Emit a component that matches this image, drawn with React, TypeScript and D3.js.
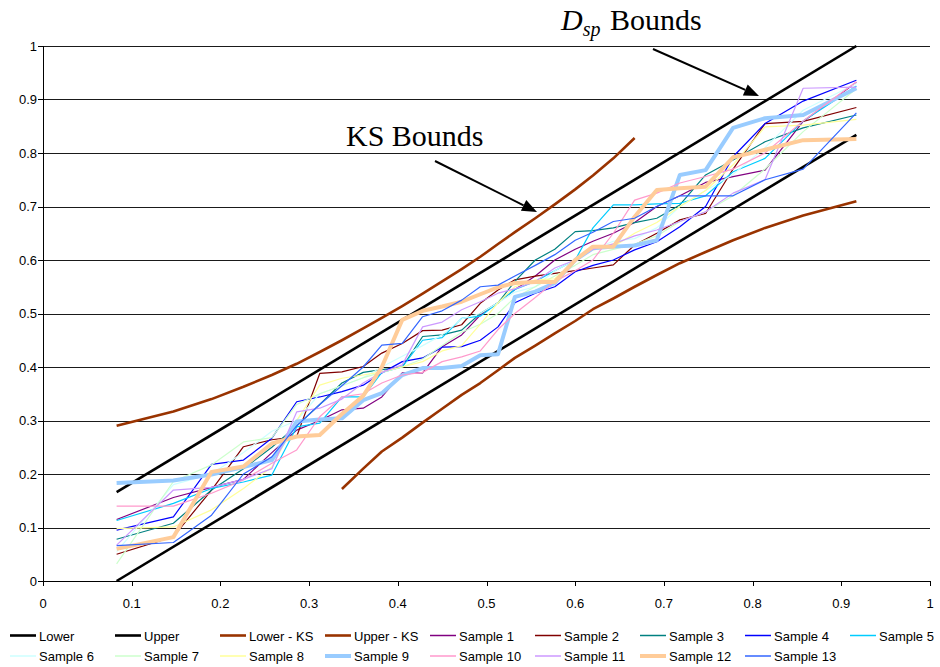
import React from "react";
import * as d3 from "d3";

// Shared x positions (theoretical probabilities) used by every series
const xGrid = [
  0.083, 0.147, 0.19, 0.226, 0.258, 0.286, 0.312, 0.337, 0.361, 0.382,
  0.405, 0.428, 0.45, 0.472, 0.493, 0.513, 0.532, 0.555, 0.577, 0.6,
  0.62, 0.643, 0.667, 0.692, 0.718, 0.747, 0.778, 0.814, 0.857, 0.917,
];

// Straight D_sp bounds (end points)
const boundX = [0.083, 0.917];
const lowerY = [0.0, 0.834];
const upperY = [0.166, 1.0];

// KS bounds: upper curve on the first 23 grid points, lower curve on the last 23
const upperKS = [
  0.29, 0.317, 0.34, 0.363, 0.385, 0.406, 0.428, 0.45, 0.472, 0.492,
  0.514, 0.537, 0.56, 0.583, 0.606, 0.63, 0.652, 0.678, 0.704, 0.732,
  0.758, 0.79, 0.828,
];
const lowerKS = [
  0.172, 0.21, 0.242, 0.268, 0.296, 0.322, 0.348, 0.37, 0.394, 0.417,
  0.44, 0.463, 0.486, 0.508, 0.528, 0.55, 0.572, 0.594, 0.615, 0.637,
  0.66, 0.683, 0.71,
];

const sample1 = [0.115, 0.156, 0.175, 0.19, 0.24, 0.282, 0.3, 0.32, 0.323, 0.344, 0.389, 0.389, 0.438, 0.46, 0.497, 0.52, 0.545, 0.57, 0.6, 0.62, 0.635, 0.65, 0.67, 0.7, 0.72, 0.745, 0.756, 0.768, 0.859, 0.932];
const sample2 = [0.05, 0.083, 0.17, 0.251, 0.264, 0.27, 0.388, 0.391, 0.401, 0.426, 0.444, 0.468, 0.469, 0.479, 0.519, 0.544, 0.563, 0.57, 0.575, 0.58, 0.585, 0.591, 0.628, 0.65, 0.675, 0.687, 0.77, 0.855, 0.859, 0.885];
const sample3 = [0.078, 0.108, 0.17, 0.21, 0.25, 0.29, 0.33, 0.37, 0.39, 0.395, 0.4, 0.457, 0.46, 0.469, 0.5, 0.52, 0.56, 0.6, 0.62, 0.653, 0.655, 0.66, 0.67, 0.678, 0.703, 0.759, 0.787, 0.821, 0.847, 0.871];
const sample4 = [0.095, 0.12, 0.218, 0.226, 0.267, 0.335, 0.344, 0.354, 0.366, 0.389, 0.41, 0.417, 0.437, 0.438, 0.45, 0.475, 0.52, 0.538, 0.55, 0.578, 0.59, 0.6, 0.619, 0.634, 0.662, 0.7, 0.793, 0.855, 0.897, 0.936];
const sample5 = [0.113, 0.145, 0.173, 0.185, 0.198, 0.288, 0.295, 0.344, 0.344, 0.39, 0.4, 0.45, 0.455, 0.491, 0.495, 0.52, 0.545, 0.56, 0.58, 0.6, 0.66, 0.703, 0.703, 0.705, 0.706, 0.72, 0.765, 0.79, 0.86, 0.925];
const sample6 = [0.055, 0.18, 0.2, 0.24, 0.28, 0.3, 0.35, 0.365, 0.38, 0.4, 0.42, 0.44, 0.46, 0.49, 0.5, 0.52, 0.54, 0.55, 0.58, 0.6, 0.62, 0.635, 0.64, 0.66, 0.7, 0.73, 0.76, 0.81, 0.88, 0.93];
const sample7 = [0.032, 0.186, 0.217, 0.26, 0.268, 0.33, 0.35, 0.365, 0.38, 0.39, 0.4, 0.415, 0.44, 0.465, 0.48, 0.5, 0.53, 0.55, 0.57, 0.59, 0.61, 0.62, 0.63, 0.645, 0.672, 0.69, 0.72, 0.77, 0.84, 0.92];
const sample8 = [0.098, 0.101, 0.133, 0.173, 0.213, 0.3, 0.366, 0.379, 0.385, 0.391, 0.4, 0.41, 0.43, 0.44, 0.48, 0.52, 0.55, 0.563, 0.565, 0.6, 0.619, 0.625, 0.65, 0.67, 0.7, 0.73, 0.778, 0.849, 0.852, 0.863];
const sample9 = [0.183, 0.188, 0.199, 0.213, 0.226, 0.298, 0.302, 0.304, 0.338, 0.351, 0.385, 0.398, 0.398, 0.402, 0.422, 0.424, 0.531, 0.541, 0.557, 0.6, 0.622, 0.625, 0.627, 0.637, 0.759, 0.768, 0.847, 0.865, 0.871, 0.921];
const sample10 = [0.14, 0.14, 0.164, 0.189, 0.22, 0.245, 0.307, 0.344, 0.35, 0.37, 0.385, 0.39, 0.41, 0.419, 0.43, 0.47, 0.5, 0.53, 0.56, 0.58, 0.6, 0.65, 0.712, 0.725, 0.744, 0.756, 0.77, 0.8, 0.86, 0.933];
const sample11 = [0.067, 0.17, 0.175, 0.19, 0.21, 0.316, 0.323, 0.34, 0.37, 0.39, 0.404, 0.475, 0.484, 0.507, 0.522, 0.538, 0.546, 0.56, 0.585, 0.6, 0.62, 0.63, 0.645, 0.656, 0.672, 0.69, 0.725, 0.75, 0.921, 0.923];
const sample12 = [0.06, 0.082, 0.204, 0.214, 0.257, 0.27, 0.273, 0.312, 0.346, 0.4, 0.488, 0.505, 0.513, 0.522, 0.536, 0.549, 0.557, 0.559, 0.559, 0.6, 0.625, 0.625, 0.681, 0.731, 0.734, 0.737, 0.792, 0.806, 0.824, 0.826];
const sample13 = [0.066, 0.072, 0.123, 0.2, 0.232, 0.29, 0.33, 0.365, 0.4, 0.441, 0.444, 0.494, 0.505, 0.525, 0.55, 0.553, 0.57, 0.59, 0.61, 0.637, 0.652, 0.672, 0.678, 0.7, 0.72, 0.72, 0.72, 0.75, 0.77, 0.875];

const xTickLabels = ["0", "0.1", "0.2", "0.3", "0.4", "0.5", "0.6", "0.7", "0.8", "0.9", "1"];
const yTickLabels = ["0", "0.1", "0.2", "0.3", "0.4", "0.5", "0.6", "0.7", "0.8", "0.9", "1"];

type Series = { name: string; xs: number[]; ys: number[]; color: string; width: number };

const series: Series[] = [
  { name: "Lower", xs: boundX, ys: lowerY, color: "#000000", width: 2.6 },
  { name: "Upper", xs: boundX, ys: upperY, color: "#000000", width: 2.6 },
  { name: "Lower - KS", xs: xGrid.slice(7), ys: lowerKS, color: "#993300", width: 2.6 },
  { name: "Upper - KS", xs: xGrid.slice(0, 23), ys: upperKS, color: "#993300", width: 2.6 },
  { name: "Sample 1", xs: xGrid, ys: sample1, color: "#800080", width: 1.2 },
  { name: "Sample 2", xs: xGrid, ys: sample2, color: "#800000", width: 1.2 },
  { name: "Sample 3", xs: xGrid, ys: sample3, color: "#008080", width: 1.2 },
  { name: "Sample 4", xs: xGrid, ys: sample4, color: "#0000FF", width: 1.2 },
  { name: "Sample 5", xs: xGrid, ys: sample5, color: "#00CCFF", width: 1.2 },
  { name: "Sample 6", xs: xGrid, ys: sample6, color: "#CCFFFF", width: 1.2 },
  { name: "Sample 7", xs: xGrid, ys: sample7, color: "#CCFFCC", width: 1.2 },
  { name: "Sample 8", xs: xGrid, ys: sample8, color: "#FFFF99", width: 1.2 },
  { name: "Sample 9", xs: xGrid, ys: sample9, color: "#99CCFF", width: 4 },
  { name: "Sample 10", xs: xGrid, ys: sample10, color: "#FF99CC", width: 1.2 },
  { name: "Sample 11", xs: xGrid, ys: sample11, color: "#CC99FF", width: 1.2 },
  { name: "Sample 12", xs: xGrid, ys: sample12, color: "#FFCC99", width: 4 },
  { name: "Sample 13", xs: xGrid, ys: sample13, color: "#3366FF", width: 1.2 },
];

const W = 940;
const H = 667;
const plot = { left: 43, right: 930, top: 46, bottom: 581 };

export default function App() {
  const x = d3.scaleLinear().domain([0, 1]).range([plot.left, plot.right]);
  const y = d3.scaleLinear().domain([0, 1]).range([plot.bottom, plot.top]);
  const line = d3
    .line<[number, number]>()
    .x((d) => x(d[0]))
    .y((d) => y(d[1]));

  const sansFont = "'Liberation Sans', Arial, sans-serif";
  const serifFont = "'Liberation Serif', 'Times New Roman', serif";

  const legendCols = 9;
  const legendX0 = 10;
  const legendStep = 105;
  const legendRowY = [635.5, 656];

  const arrow = (x1: number, y1: number, x2: number, y2: number, key: string) => {
    const ang = Math.atan2(y2 - y1, x2 - x1);
    const len = 15;
    const half = 6;
    const bx = x2 - len * Math.cos(ang);
    const by = y2 - len * Math.sin(ang);
    const p1 = [bx + half * Math.sin(ang), by - half * Math.cos(ang)];
    const p2 = [bx - half * Math.sin(ang), by + half * Math.cos(ang)];
    return (
      <g key={key}>
        <line x1={x1} y1={y1} x2={bx} y2={by} stroke="#000" strokeWidth={2} />
        <polygon points={`${x2},${y2} ${p1[0]},${p1[1]} ${p2[0]},${p2[1]}`} fill="#000" />
      </g>
    );
  };

  return (
    <svg
      width={W}
      height={H}
      viewBox={`0 0 ${W} ${H}`}
      style={{ position: "absolute", left: 0, top: 0, background: "#fff" }}
    >
      <rect x={0} y={0} width={W} height={H} fill="#fff" />

      {/* horizontal gridlines */}
      {yTickLabels.map((t, i) =>
        i === 0 ? null : (
          <line
            key={"g" + i}
            x1={plot.left}
            x2={plot.right}
            y1={Math.round(y(+t)) + 0.5}
            y2={Math.round(y(+t)) + 0.5}
            stroke="#1a1a1a"
            strokeWidth={1}
          />
        )
      )}

      {/* axes */}
      <line x1={plot.left + 0.5} x2={plot.left + 0.5} y1={plot.top} y2={plot.bottom} stroke="#000" strokeWidth={1} />
      <line x1={plot.left} x2={plot.right} y1={plot.bottom + 0.5} y2={plot.bottom + 0.5} stroke="#000" strokeWidth={1} />

      {yTickLabels.map((t, i) => (
        <g key={"yt" + i}>
          <line x1={plot.left - 5} x2={plot.left} y1={Math.round(y(+t)) + 0.5} y2={Math.round(y(+t)) + 0.5} stroke="#000" />
          <text
            x={plot.left - 6}
            y={y(+t) + 4.5}
            textAnchor="end"
            fontFamily={sansFont}
            fontSize={13}
            fill="#000"
          >
            {t}
          </text>
        </g>
      ))}
      {xTickLabels.map((t, i) => (
        <g key={"xt" + i}>
          <line x1={Math.round(x(+t)) + 0.5} x2={Math.round(x(+t)) + 0.5} y1={plot.bottom} y2={plot.bottom + 5} stroke="#000" />
          <text
            x={x(+t)}
            y={plot.bottom + 27}
            textAnchor="middle"
            fontFamily={sansFont}
            fontSize={13}
            fill="#000"
          >
            {t}
          </text>
        </g>
      ))}

      {/* data series */}
      {series.map((s) => (
        <path
          key={s.name}
          d={line(s.xs.map((xv, i) => [xv, s.ys[i]] as [number, number])) || ""}
          fill="none"
          stroke={s.color}
          strokeWidth={s.width}
          strokeLinejoin="round"
        />
      ))}

      {/* annotations */}
      <text x={346} y={146} fontFamily={serifFont} fontSize={30} fill="#000">
        KS Bounds
      </text>
      {arrow(435, 161, 537, 212, "ksArrow")}
      <text x={561} y={30} fontFamily={serifFont} fontSize={30} fill="#000">
        <tspan fontStyle="italic">D</tspan>
        <tspan fontStyle="italic" fontSize={20} dy={6}>
          sp
        </tspan>
        <tspan dy={-6} dx={2}>
          {" Bounds"}
        </tspan>
      </text>
      {arrow(653, 49, 759, 96, "dspArrow")}

      {/* legend */}
      {series.map((s, i) => {
        const row = Math.floor(i / legendCols);
        const col = i % legendCols;
        const lx = legendX0 + col * legendStep;
        const ly = legendRowY[row];
        return (
          <g key={"lg" + s.name}>
            <line x1={lx} x2={lx + 26} y1={ly} y2={ly} stroke={s.color} strokeWidth={s.width === 1.2 ? 1.5 : s.width} />
            <text x={lx + 29} y={ly + 5} fontFamily={sansFont} fontSize={13} fill="#000">
              {s.name}
            </text>
          </g>
        );
      })}
    </svg>
  );
}
